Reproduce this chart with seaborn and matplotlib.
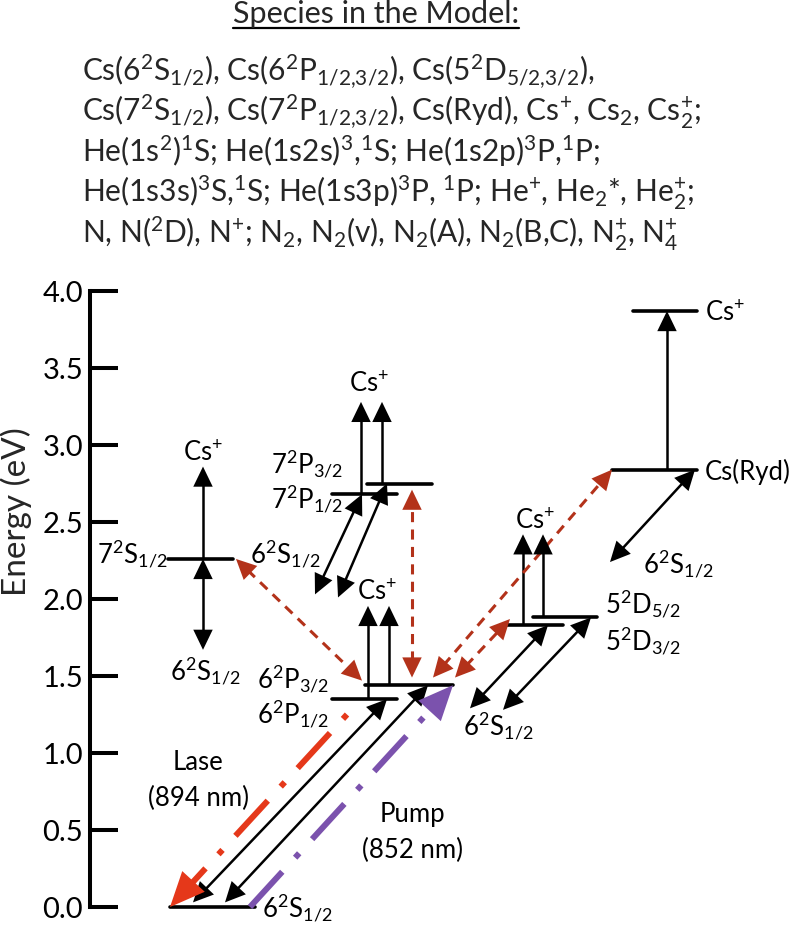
import numpy as np
import pandas as pd
import seaborn as sns
from matplotlib import pyplot as plt
from matplotlib.patches import FancyArrowPatch
from matplotlib.lines import Line2D

# ---- data -------------------------------------------------------------
level_names = ['6S1/2', '6P1/2', '6P3/2', '5D3/2', '5D5/2',
               '7S1/2', '7P1/2', '7P3/2', 'Ryd', 'Cs+']
level_energy = [0.0, 1.35, 1.44, 1.83, 1.88, 2.26, 2.68, 2.75, 2.84, 3.87]
E = dict(zip(level_names, level_energy))

yticks = [0.0, 0.5, 1.0, 1.5, 2.0, 2.5, 3.0, 3.5, 4.0]
ytick_labels = ['0.0', '0.5', '1.0', '1.5', '2.0', '2.5', '3.0', '3.5', '4.0']

species_title = 'Species in the Model:'
species_lines = [
    r'Cs(6$^2$S$_{1/2}$), Cs(6$^2$P$_{1/2{,}3/2}$), Cs(5$^2$D$_{5/2{,}3/2}$),',
    r'Cs(7$^2$S$_{1/2}$), Cs(7$^2$P$_{1/2{,}3/2}$), Cs(Ryd), Cs$^{+}$, Cs$_2$, Cs$_2^{+}$;',
    r'He(1s$^2$)$^1$S; He(1s2s)$^3$,$^1$S; He(1s2p)$^3$P,$^1$P;',
    r'He(1s3s)$^3$S,$^1$S; He(1s3p)$^3$P, $^1$P; He$^{+}$, He$_2$*, He$_2^{+}$;',
    r'N, N($^2$D), N$^{+}$; N$_2$, N$_2$(v), N$_2$(A), N$_2$(B,C), N$_2^{+}$, N$_4^{+}$',
]

# ---- layout (pixels) --------------------------------------------------
W, H, DPI = 796, 929, 100
Y0_PX, Y4_PX = 908, 292
PX_PER_EV = (Y0_PX - Y4_PX) / 4.0


def e_at(ypx):
    return (Y0_PX - ypx) / PX_PER_EV


level_x = {'6S1/2': (170, 255), '6P1/2': (332, 397), '6P3/2': (365, 453),
           '5D3/2': (507, 563), '5D5/2': (533, 597), '7S1/2': (168, 233),
           '7P1/2': (332, 397), '7P3/2': (367, 432), 'Ryd': (612, 697),
           'Cs+': (633, 697)}

BLACK = 'black'
RED_DASH = '#b3321a'
LASE = '#e5381a'
PUMP = '#7b52ad'

sns.set_theme(style='white')
plt.rcParams['font.family'] = ['Lato', 'DejaVu Sans']
plt.rcParams['mathtext.fontset'] = 'custom'
plt.rcParams['mathtext.rm'] = 'Lato'
plt.rcParams['mathtext.default'] = 'regular'

fig = plt.figure(figsize=(W / DPI, H / DPI), dpi=DPI)
ax = fig.add_axes([0, (H - Y0_PX) / H, 1, (Y0_PX - Y4_PX) / H])

# energy levels
rows = []
for name in level_names:
    for x in level_x[name]:
        rows.append({'level': name, 'x': x, 'E': E[name]})
levels = pd.DataFrame(rows)
sns.lineplot(data=levels, x='x', y='E', units='level', estimator=None,
             sort=False, color=BLACK, linewidth=2.6, ax=ax, legend=False)


def arrow(p0, p1, color=BLACK, lw=1.8, ls='-', both=False, hl=14.5, hw=7.0):
    x0, e0 = p0
    x1, e1 = p1
    dx, dy = x1 - x0, (e1 - e0) * PX_PER_EV
    L = np.hypot(dx, dy)
    ux, uy = dx / L, dy / L
    cut = hl * DPI / 72 * 0.8
    sx1, se1 = x1 - ux * cut, e1 - uy * cut / PX_PER_EV
    sx0, se0 = x0, e0
    if both:
        sx0, se0 = x0 + ux * cut, e0 + uy * cut / PX_PER_EV
    ax.plot([sx0, sx1], [se0, se1], color=color, lw=lw, linestyle=ls,
            solid_capstyle='butt', dash_capstyle='butt', clip_on=False)
    style = '<|-|>' if both else '-|>'
    ax.add_patch(FancyArrowPatch(
        (x0, e0), (x1, e1),
        arrowstyle=f'{style},head_length={hl},head_width={hw}',
        mutation_scale=1, lw=0, color=color, shrinkA=0, shrinkB=0,
        clip_on=False, zorder=3))


# black transitions
arrow((203, E['7S1/2']), (203, 2.86))
arrow((203, 1.67), (203, E['7S1/2']), both=True)
arrow((368, E['6P1/2']), (368, 1.955))
arrow((389, E['6P3/2']), (389, 1.955))
arrow((361, E['7P1/2']), (361, 3.28))
arrow((382, E['7P3/2']), (382, 3.28))
arrow((315, 2.03), (362, E['7P1/2']), both=True)
arrow((338, 2.01), (387, E['7P3/2']), both=True)
arrow((523, E['5D3/2']), (523, 2.42))
arrow((543, E['5D5/2']), (543, 2.42))
arrow((470, 1.29), (548, E['5D3/2']), both=True)
arrow((503, 1.28), (591, E['5D5/2']), both=True)
arrow((667, E['Ryd']), (667, E['Cs+']))
arrow((610, 2.24), (695, E['Ryd']), both=True)
arrow((193, 0.03), (387, E['6P1/2']), both=True)
arrow((225, 0.03), (428, E['6P3/2']), both=True)

# red dashed (collisional) transitions
dash = (0, (3.3, 2.4))
arrow((236, E['7S1/2']), (362, 1.47), color=RED_DASH, lw=2.2, ls=dash, both=True)
arrow((412, 1.49), (412, 2.71), color=RED_DASH, lw=2.2, ls=dash, both=True)
arrow((433, 1.49), (612, E['Ryd']), color=RED_DASH, lw=2.2, ls=dash, both=True)
arrow((455, 1.49), (510, 1.87), color=RED_DASH, lw=2.2, ls=dash, both=True)

# lase and pump
arrow((347, 1.25), (170, E['6S1/2']), color=LASE, lw=4.3,
      ls=(0, (1, 3.2, 8, 3.2)), hl=25, hw=11)
arrow((250, E['6S1/2']), (453, E['6P3/2']), color=PUMP, lw=4.3,
      ls=(0, (8, 3.2, 1, 3.2)), hl=25, hw=11)

# labels: (text, x, baseline px, ha)
labels = [
    (r'6$^2$S$_{1/2}$', 262, 917, 'left'),
    (r'7$^2$S$_{1/2}$', 168, 563, 'right'),
    (r'6$^2$S$_{1/2}$', 250, 563, 'left'),
    (r'Cs$^{+}$', 203, 462, 'center'),
    (r'6$^2$S$_{1/2}$', 170, 680, 'left'),
    (r'6$^2$P$_{3/2}$', 329, 688, 'right'),
    (r'6$^2$P$_{1/2}$', 329, 723, 'right'),
    (r'7$^2$P$_{3/2}$', 343, 473, 'right'),
    (r'7$^2$P$_{1/2}$', 343, 508, 'right'),
    (r'Cs$^{+}$', 369, 393, 'center'),
    (r'Cs$^{+}$', 377, 601, 'center'),
    (r'Cs$^{+}$', 535, 530, 'center'),
    (r'5$^2$D$_{5/2}$', 605, 613, 'left'),
    (r'5$^2$D$_{3/2}$', 605, 650, 'left'),
    (r'6$^2$S$_{1/2}$', 463, 735, 'left'),
    (r'6$^2$S$_{1/2}$', 643, 573, 'left'),
    ('Cs(Ryd)', 705, 480, 'left'),
    (r'Cs$^{+}$', 705, 322, 'left'),
    ('Lase', 198, 770, 'center'),
    ('(894 nm)', 198, 806, 'center'),
    ('Pump', 412, 822, 'center'),
    ('(852 nm)', 412, 858, 'center'),
]
for txt, x, ypx, ha in labels:
    ax.text(x, e_at(ypx), txt, ha=ha, va='baseline', fontsize=18.5,
            color='black', clip_on=False)

# axis styling
ax.set_xlim(0, W)
ax.set_ylim(0, 4)
for s in ['top', 'right', 'bottom']:
    ax.spines[s].set_visible(False)
ax.spines['left'].set_position(('data', 90))
ax.spines['left'].set_linewidth(2.9)
ax.spines['left'].set_color('black')
ax.set_xticks([])
ax.set_yticks(yticks)
ax.set_yticklabels(ytick_labels)
ax.tick_params(axis='y', direction='in', length=20, width=2.9, pad=5,
               labelsize=21, colors='black', left=True)
ax.set_xlabel('')
ax.set_ylabel('')
ax.patch.set_alpha(0)
for line in ax.lines:
    line.set_clip_on(False)

fig.text(16 / W, 1 - 512 / H, 'Energy (eV)', rotation=90, ha='center',
         va='center', fontsize=24)

# species list
t = fig.text(376 / W, 1 - 23 / H, species_title, ha='center', va='baseline',
             fontsize=22)
for i, line in enumerate(species_lines):
    fig.text(82 / W, 1 - (80 + 40.8 * i) / H, line, ha='left',
             va='baseline', fontsize=21.5)

fig.canvas.draw()
bb = t.get_window_extent()
uy = 1 - 29 / H
fig.add_artist(Line2D([bb.x0 / W, bb.x1 / W], [uy, uy], color='black', lw=1.6))

fig.savefig('out.png', dpi=DPI)
